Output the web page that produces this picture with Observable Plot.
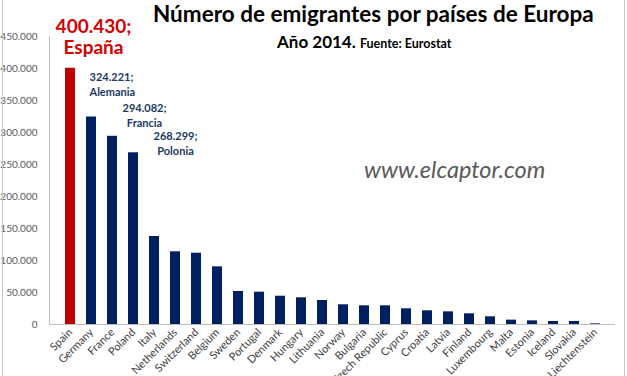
<!DOCTYPE html>
<html><head><meta charset="utf-8">
<script src="https://cdn.jsdelivr.net/npm/d3@7"></script>
<script src="https://cdn.jsdelivr.net/npm/@observablehq/plot@0.6"></script>
<style>
html,body{margin:0;padding:0;background:#fff;}
#wrap{position:relative;width:627px;height:376px;overflow:hidden;font-family:Lato,"Open Sans",sans-serif;}
#frame{position:absolute;left:2px;top:0;width:621px;height:376px;border-left:1px solid #c8c8c8;border-right:1px solid #c8c8c8;pointer-events:none;}
.t{position:absolute;white-space:nowrap;}
#title{left:153px;top:0px;font-size:22.5px;font-weight:bold;color:#000;}
#sub{left:277px;top:31px;font-size:17px;font-weight:bold;color:#000;}
#sub span{font-size:12.5px;}
#wm{left:364px;top:155px;font-size:23.5px;font-style:italic;color:#595959;}
svg{position:absolute;left:0;top:0;}
</style></head>
<body><div id="wrap"><div id="chart"></div>
<div class="t" id="title">Número de emigrantes por países de Europa</div>
<div class="t" id="sub">Año 2014. <span>Fuente: Eurostat</span></div>
<div class="t" id="wm">www.elcaptor.com</div>
<div id="frame"></div></div>
<script>
const countries = ["Spain","Germany","France","Poland","Italy","Netherlands","Switzerland","Belgium","Sweden","Portugal","Denmark","Hungary","Lithuania","Norway","Bulgaria","Czech Republic","Cyprus","Croatia","Latvia","Finland","Luxembourg","Malta","Estonia","Iceland","Slovakia","Liechtenstein"];
const emigrants = [400430,324221,294082,268299,137500,113600,111400,90100,51600,50500,44200,41700,37500,30800,29200,29200,24500,21400,19800,16700,12000,6800,5700,4700,4700,1000];
const labelNames = {Spain:"España",Germany:"Alemania",France:"Francia",Poland:"Polonia"};
const yTicks = [0,50000,100000,150000,200000,250000,300000,350000,400000,450000];

const data = countries.map((c,i)=>({country:c,value:emigrants[i]}));
const fmt = v => d3.format(",")(v).replace(/,/g,".");
const lab = d => fmt(d.value)+";\n"+labelNames[d.country];
const pick = c => data.filter(d=>d.country===c);

const plot = Plot.plot({
  width:627,height:376,
  marginLeft:49,marginRight:12,marginTop:36,marginBottom:52,
  style:{fontFamily:"Lato, 'Open Sans', sans-serif",background:"transparent"},
  x:{domain:countries,paddingInner:0.54,paddingOuter:0.27,label:null},
  y:{domain:[0,450000],label:null},
  marks:[
    Plot.axisY({ticks:yTicks,tickFormat:fmt,tickSize:0,tickPadding:12,fontSize:10,color:"#595959",label:null}),
    Plot.axisX({tickSize:0,tickPadding:6,tickRotate:-45,fontSize:11,color:"#404040",label:null}),
    Plot.barY(data,{x:"country",y:"value",fill:d=>d.country==="Spain"?"#c00000":"#002060"}),
    Plot.ruleY([0],{stroke:"#bfbfbf"}),
    Plot.frame({anchor:"left",stroke:"#bfbfbf"}),
    Plot.text(pick("Spain"),{x:"country",y:"value",text:lab,fill:"#d40000",fontSize:19,fontWeight:"bold",lineAnchor:"bottom",lineHeight:1.1,dx:23,dy:-14}),
    Plot.text(pick("Germany"),{x:"country",y:"value",text:lab,fill:"#203864",fontSize:11,fontWeight:"bold",textAnchor:"start",lineAnchor:"bottom",lineHeight:1.35,dx:-2,dy:-21}),
    Plot.text(pick("France"),{x:"country",y:"value",text:lab,fill:"#203864",fontSize:11,fontWeight:"bold",lineAnchor:"bottom",lineHeight:1.35,dx:32,dy:-9}),
    Plot.text(pick("Poland"),{x:"country",y:"value",text:lab,fill:"#203864",fontSize:11,fontWeight:"bold",lineAnchor:"bottom",lineHeight:1.35,dx:42,dy:2})
  ]
});
document.getElementById("chart").appendChild(plot);
</script></body></html>
